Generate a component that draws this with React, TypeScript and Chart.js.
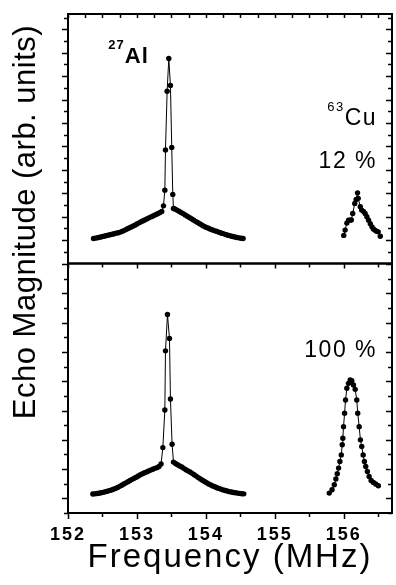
import React, { useEffect, useRef } from "react";
import { Chart, registerables } from "chart.js";

Chart.register(...registerables);

// ---------- axis settings ----------
const X_MIN = 152;
const X_MAX = 156.7;
const TOP_MAX = 21.3; // top panel height in tick units
const BOT_MAX = 17.05; // bottom panel height in tick units
const xTickLabels = ["152", "153", "154", "155", "156"];

// ---------- top panel (12 %) : 27Al ----------
const alFreqTop = [
  152.37, 152.40, 152.43, 152.46, 152.49, 152.52, 152.55, 152.58, 152.61, 152.64,
  152.67, 152.70, 152.73, 152.76, 152.79, 152.82, 152.85, 152.88, 152.91, 152.94,
  152.97, 153.00, 153.03, 153.06, 153.09, 153.12, 153.15, 153.18, 153.21, 153.24,
  153.27, 153.30, 153.33, 153.36,
  153.385, 153.405, 153.414, 153.438, 153.462, 153.486, 153.505, 153.52, 153.53,
  153.55, 153.58, 153.61, 153.64, 153.67, 153.70, 153.73, 153.76, 153.79, 153.82,
  153.85, 153.88, 153.91, 153.94, 153.97, 154.00, 154.03, 154.06, 154.09, 154.12,
  154.15, 154.18, 154.21, 154.24, 154.27, 154.30, 154.33, 154.36, 154.39, 154.42,
  154.45, 154.48, 154.51, 154.54,
];
const alTop = [
  2.14, 2.17, 2.20, 2.24, 2.28, 2.32, 2.37, 2.42, 2.46, 2.50,
  2.54, 2.59, 2.63, 2.68, 2.75, 2.83, 2.92, 3.01, 3.10, 3.19,
  3.27, 3.37, 3.47, 3.56, 3.65, 3.74, 3.83, 3.92, 4.00, 4.08,
  4.17, 4.25, 4.34, 4.44,
  4.92, 6.26, 9.7, 14.7, 17.5, 15.2, 9.9, 5.9, 4.7,
  4.65, 4.56, 4.46, 4.36, 4.26, 4.15, 4.04, 3.93, 3.82, 3.71,
  3.60, 3.50, 3.40, 3.29, 3.19, 3.10, 3.03, 2.95, 2.88, 2.81,
  2.75, 2.69, 2.63, 2.57, 2.51, 2.45, 2.40, 2.35, 2.30, 2.26,
  2.22, 2.19, 2.16, 2.14,
];

// ---------- top panel : 63Cu (12 %) ----------
const cuFreqTop = [
  156.00, 156.02, 156.045, 156.07, 156.09, 156.11, 156.13, 156.16, 156.18, 156.20,
  156.21, 156.24, 156.26, 156.285, 156.31, 156.335, 156.36, 156.385, 156.41, 156.43,
  156.45, 156.475, 156.50, 156.53,
];
const cuTop = [
  2.40, 2.85, 3.45, 3.70, 3.70, 3.72, 4.27, 5.13, 5.47, 6.03,
  5.56, 4.84, 4.56, 4.45, 4.27, 4.00, 3.70, 3.40, 3.13, 2.95,
  2.85, 2.75, 2.70, 2.33,
];

// ---------- bottom panel (100 %) : 27Al ----------
const alFreqBot = [
  152.36, 152.39, 152.42, 152.45, 152.48, 152.51, 152.54, 152.57, 152.60, 152.63,
  152.66, 152.69, 152.72, 152.75, 152.78, 152.81, 152.84, 152.87, 152.90, 152.93,
  152.96, 152.99, 153.02, 153.05, 153.08, 153.11, 153.14, 153.17, 153.20, 153.23,
  153.26, 153.29, 153.32, 153.35,
  153.376, 153.405, 153.414, 153.443, 153.472, 153.486, 153.51, 153.53,
  153.56, 153.59, 153.62, 153.65, 153.68, 153.71, 153.74, 153.77, 153.80, 153.83,
  153.86, 153.89, 153.92, 153.95, 153.98, 154.01, 154.04, 154.07, 154.10, 154.13,
  154.16, 154.19, 154.22, 154.25, 154.28, 154.31, 154.34, 154.37, 154.40, 154.43,
  154.46, 154.49, 154.52, 154.55,
];
const alBot = [
  1.30, 1.31, 1.33, 1.35, 1.38, 1.41, 1.45, 1.49, 1.53, 1.57,
  1.62, 1.68, 1.75, 1.82, 1.90, 1.98, 2.06, 2.14, 2.22, 2.30,
  2.37, 2.45, 2.53, 2.61, 2.69, 2.75, 2.81, 2.87, 2.93, 2.99,
  3.05, 3.10, 3.18, 3.35,
  4.47, 7.04, 11.08, 13.56, 11.93, 7.79, 4.7, 3.48,
  3.38, 3.30, 3.22, 3.14, 3.05, 2.96, 2.88, 2.80, 2.71, 2.62,
  2.52, 2.42, 2.33, 2.24, 2.15, 2.07, 1.99, 1.92, 1.85, 1.79,
  1.73, 1.68, 1.63, 1.58, 1.54, 1.50, 1.46, 1.43, 1.40, 1.38,
  1.36, 1.34, 1.32, 1.31,
];

// ---------- bottom panel : 63Cu (100 %) ----------
const cuFreqBot = [
  155.79, 155.83, 155.863, 155.886, 155.906, 155.925, 155.944, 155.964, 155.978, 155.987,
  155.997, 156.012, 156.026, 156.045, 156.069, 156.094, 156.117, 156.141, 156.166, 156.189,
  156.203, 156.224, 156.242, 156.261, 156.281, 156.30, 156.319, 156.343, 156.368, 156.397,
  156.43, 156.463, 156.502,
];
const cuBot = [
  1.36, 1.59, 1.93, 2.32, 2.68, 3.07, 3.52, 3.97, 4.66, 5.11,
  5.90, 6.82, 7.72, 8.52, 8.86, 9.09, 9.04, 8.75, 8.45, 7.72,
  6.82, 5.90, 5.00, 4.54, 3.97, 3.52, 3.18, 2.84, 2.50, 2.22,
  2.09, 1.98, 1.86,
];

// ---------- annotations (data coordinates) ----------
const labels = [
  { sup: "27", main: "Al", x: 152.585, y: 17.1, axis: "yTop", align: "left", bold: true },
  { sup: "63", main: "Cu", x: 156.483, y: 11.82, axis: "yTop", align: "right", bold: false },
  { sup: "", main: "12 %", x: 156.483, y: 8.15, axis: "yTop", align: "right", bold: false },
  { sup: "", main: "100 %", x: 156.483, y: 10.66, axis: "yBot", align: "right", bold: false },
];

const FONT = "'Liberation Sans', Arial, Helvetica, sans-serif";

function pts(xs: number[], ys: number[]) {
  return xs.map((x, i) => ({ x, y: ys[i] }));
}

function series(xs: number[], ys: number[], axis: string) {
  return {
    data: pts(xs, ys),
    yAxisID: axis,
    showLine: true,
    borderColor: "#000",
    borderWidth: 1,
    pointRadius: 2.7,
    pointBackgroundColor: "#000",
    pointBorderWidth: 0,
    tension: 0,
  };
}

const decorPlugin = {
  id: "decor",
  beforeDraw(chart: any) {
    chart.ctx.letterSpacing = "2px";
  },
  afterDraw(chart: any) {
    const ctx = chart.ctx as CanvasRenderingContext2D;
    const x = chart.scales.x;
    const yT = chart.scales.yTop;
    const yB = chart.scales.yBot;
    const L = chart.chartArea.left;
    const R = chart.chartArea.right;
    ctx.save();
    ctx.strokeStyle = "#000";
    ctx.fillStyle = "#000";

    // frames
    ctx.lineWidth = 2;
    ctx.strokeRect(L, yT.top, R - L, yT.bottom - yT.top);
    ctx.strokeRect(L, yB.top, R - L, yB.bottom - yB.top);

    ctx.lineWidth = 1.5;
    ctx.beginPath();
    // y ticks, top panel (major at even units)
    for (let v = 0; v <= Math.floor(TOP_MAX); v++) {
      const py = Math.round(yT.getPixelForValue(v)) + 0.5;
      const len = v % 2 === 0 ? 6 : 4;
      ctx.moveTo(L - len, py); ctx.lineTo(L, py);
      ctx.moveTo(R, py); ctx.lineTo(R - len, py);
    }
    // y ticks, bottom panel (major aligned from divider)
    for (let v = 0; v <= Math.floor(BOT_MAX); v++) {
      const py = Math.round(yB.getPixelForValue(v)) + 0.5;
      const len = (17 - v) % 2 === 0 ? 6 : 4;
      ctx.moveTo(L - len, py); ctx.lineTo(L, py);
      ctx.moveTo(R, py); ctx.lineTo(R - len, py);
    }
    // x ticks
    for (let v = X_MIN; v <= X_MAX + 1e-9; v += 0.25) {
      const px = Math.round(x.getPixelForValue(v)) + 0.5;
      const isHalf = Math.abs(v * 2 - Math.round(v * 2)) < 1e-6;
      const isInt = Math.abs(v - Math.round(v)) < 1e-6;
      // top of top panel: every 0.25, inward
      ctx.moveTo(px, yT.top); ctx.lineTo(px, yT.top + 4);
      if (isHalf) {
        // top of bottom panel, inward
        ctx.moveTo(px, yB.top); ctx.lineTo(px, yB.top + (isInt ? 5 : 4));
        // bottom axis, outward
        ctx.moveTo(px, yB.bottom); ctx.lineTo(px, yB.bottom + (isInt ? 6 : 4));
      }
    }
    ctx.stroke();

    // annotations
    ctx.textBaseline = "alphabetic";
    ctx.textAlign = "left";
    for (const lb of labels) {
      const sc = chart.scales[lb.axis];
      const px = x.getPixelForValue(lb.x);
      const py = sc.getPixelForValue(lb.y);
      const mainFont = lb.bold ? `bold 22px ${FONT}` : `23px ${FONT}`;
      const supFont = lb.bold ? `bold 13px ${FONT}` : `13px ${FONT}`;
      ctx.letterSpacing = lb.bold ? "1px" : "1.5px";
      ctx.font = mainFont;
      const mw = ctx.measureText(lb.main).width;
      ctx.font = supFont;
      const sw = lb.sup ? ctx.measureText(lb.sup).width : 0;
      const start = lb.align === "left" ? px : px - mw - sw;
      if (lb.sup) {
        ctx.font = supFont;
        ctx.fillText(lb.sup, start, py - 14);
      }
      ctx.font = mainFont;
      ctx.fillText(lb.main, start + sw, py);
    }

    // y-axis title
    ctx.letterSpacing = "0.5px";
    ctx.font = `31px ${FONT}`;
    ctx.textAlign = "center";
    ctx.textBaseline = "alphabetic";
    ctx.translate(35, 222);
    ctx.rotate(-Math.PI / 2);
    ctx.fillText("Echo Magnitude (arb. units)", 0, 0);
    ctx.restore();
  },
};

export default function App() {
  const ref = useRef<HTMLCanvasElement>(null);
  useEffect(() => {
    const canvas = ref.current;
    if (!canvas) return;
    const chart = new Chart(canvas, {
      type: "scatter",
      data: {
        datasets: [
          series(alFreqTop, alTop, "yTop"),
          series(cuFreqTop, cuTop, "yTop"),
          series(alFreqBot, alBot, "yBot"),
          series(cuFreqBot, cuBot, "yBot"),
        ] as any,
      },
      options: {
        responsive: false,
        animation: false,
        layout: { padding: { left: 68, top: 14, right: 3, bottom: 0 } },
        plugins: { legend: { display: false }, tooltip: { enabled: false } },
        scales: {
          x: {
            type: "linear",
            min: X_MIN,
            max: X_MAX,
            grid: { display: false, drawTicks: false },
            border: { display: false },
            ticks: {
              stepSize: 0.5,
              autoSkip: false,
              maxRotation: 0,
              padding: 11,
              color: "#000",
              font: { family: FONT, size: 18, weight: "bold" },
              callback: (v: any) => {
                const i = xTickLabels.indexOf(String(v));
                return i >= 0 ? xTickLabels[i] : "";
              },
            },
            title: {
              display: true,
              text: "Frequency (MHz)",
              color: "#000",
              font: { family: FONT, size: 33 },
              padding: { top: 0, bottom: 7 },
            },
            afterFit: (s: any) => {
              s.height = 72;
              s.paddingLeft = 0;
              s.paddingRight = 0;
            },
          },
          // stacked scales are placed bottom-up in definition order
          yBot: {
            type: "linear",
            position: "left",
            stack: "panels",
            stackWeight: 1,
            min: 0,
            max: BOT_MAX,
            grid: { display: false, drawTicks: false },
            border: { display: false },
            ticks: { display: false, stepSize: 1 },
            afterFit: (s: any) => {
              s.width = 0;
              s.paddingTop = 0;
              s.paddingBottom = 0;
            },
          },
          yTop: {
            type: "linear",
            position: "left",
            stack: "panels",
            stackWeight: 1,
            min: 0,
            max: TOP_MAX,
            grid: { display: false, drawTicks: false },
            border: { display: false },
            ticks: { display: false, stepSize: 1 },
            afterFit: (s: any) => {
              s.width = 0;
              s.paddingTop = 0;
              s.paddingBottom = 0;
            },
          },
        } as any,
      },
      plugins: [decorPlugin],
    });
    return () => chart.destroy();
  }, []);
  return (
    <div style={{ position: "absolute", left: 0, top: 0, width: 396, height: 585, background: "#fff" }}>
      <canvas ref={ref} width={396} height={585} style={{ display: "block" }} />
    </div>
  );
}
